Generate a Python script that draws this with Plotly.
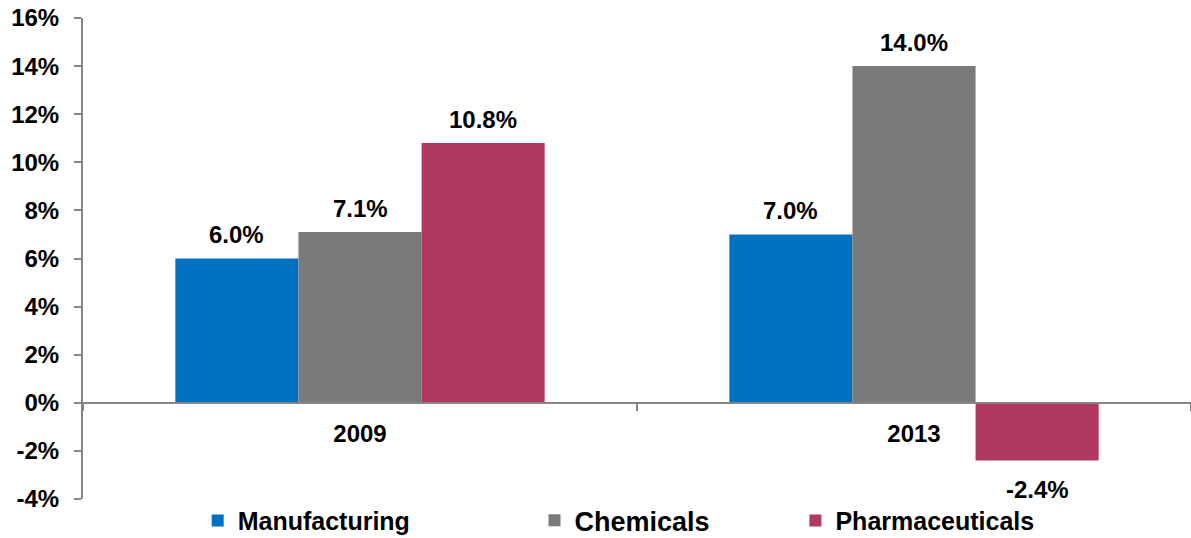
import plotly.graph_objects as go

# Growth rates by sector (percent)
years = ["2009", "2013"]
manufacturing = [6.0, 7.0]
chemicals = [7.1, 14.0]
pharmaceuticals = [10.8, -2.4]

# Y axis ticks (percent)
y_tick_vals = [-4, -2, 0, 2, 4, 6, 8, 10, 12, 14, 16]
y_tick_labels = ["-4%", "-2%", "0%", "2%", "4%", "6%", "8%", "10%", "12%", "14%", "16%"]

series = [
    ("Manufacturing", manufacturing, "#0070C0", "legend", 25),
    ("Chemicals", chemicals, "#7A7A7A", "legend2", 27),
    ("Pharmaceuticals", pharmaceuticals, "#B03862", "legend3", 25),
]

W, H = 1191, 538
M_L, M_R, M_T, M_B = 83, 0, 18, 39
BARGAP = 1 / 3
FONT = "Liberation Sans, Arial, sans-serif"
AXIS_COLOR = "#868686"

plot_w = W - M_L - M_R
bar_px = plot_w / len(years) * (1 - BARGAP) / len(series)

fig = go.Figure()
for name, vals, color, leg, fsize in series:
    fig.add_trace(go.Bar(
        x=years, y=vals, name=name, marker_color=color,
        marker_line_width=0, legend=leg,
    ))

# Value labels above (or below) each bar; x given as category index
annotations = []
for i, (name, vals, color, leg, fsize) in enumerate(series):
    for j, v in enumerate(vals):
        annotations.append(dict(
            x=j, y=v, xref="x", yref="y",
            text=f"<b>{v:.1f}%</b>", showarrow=False,
            xshift=(i - (len(series) - 1) / 2) * bar_px,
            yshift=24 if v >= 0 else -29,
            font=dict(family=FONT, size=24, color="black"),
            xanchor="center", yanchor="middle",
        ))

y_min, y_max = y_tick_vals[0], y_tick_vals[-1]
zero_frac = (0 - y_min) / (y_max - y_min)

legend_style = dict(
    orientation="h", yanchor="middle", xanchor="left", y=-0.045,
    bgcolor="rgba(0,0,0,0)", borderwidth=0,
)
legend_x = {"legend": 0.1035, "legend2": 0.4075, "legend3": 0.643}
legend_font = {leg: fs for _, _, _, leg, fs in series}

fig.update_layout(
    width=W, height=H,
    margin=dict(l=M_L, r=M_R, t=M_T, b=M_B, pad=0, autoexpand=False),
    paper_bgcolor="white", plot_bgcolor="white",
    barmode="group", bargap=BARGAP, bargroupgap=0,
    font=dict(family=FONT, color="black"),
    annotations=annotations,
    showlegend=True,
    **{
        leg: dict(legend_style, x=legend_x[leg],
                  font=dict(family=FONT, size=legend_font[leg], color="black", weight="bold"))
        for leg in legend_x
    },
)

fig.update_yaxes(
    range=[y_min, y_max], tickmode="array",
    tickvals=y_tick_vals, ticktext=y_tick_labels,
    showgrid=False, zeroline=False,
    showline=True, linecolor=AXIS_COLOR, linewidth=2,
    ticks="outside", ticklen=7, tickwidth=2, tickcolor=AXIS_COLOR,
    tickfont=dict(family=FONT, size=24, color="black", weight="bold"),
    ticklabelstandoff=10,
)
fig.update_xaxes(
    type="category", anchor="free", position=zero_frac,
    range=[-0.5, len(years) - 0.5],
    showgrid=False, zeroline=False,
    showline=True, linecolor=AXIS_COLOR, linewidth=2,
    ticks="outside", tickson="boundaries", ticklen=7, tickwidth=2, tickcolor=AXIS_COLOR,
    tickfont=dict(family=FONT, size=24, color="black", weight="bold"),
    ticklabelstandoff=9,
)

fig.write_html("out.html")
